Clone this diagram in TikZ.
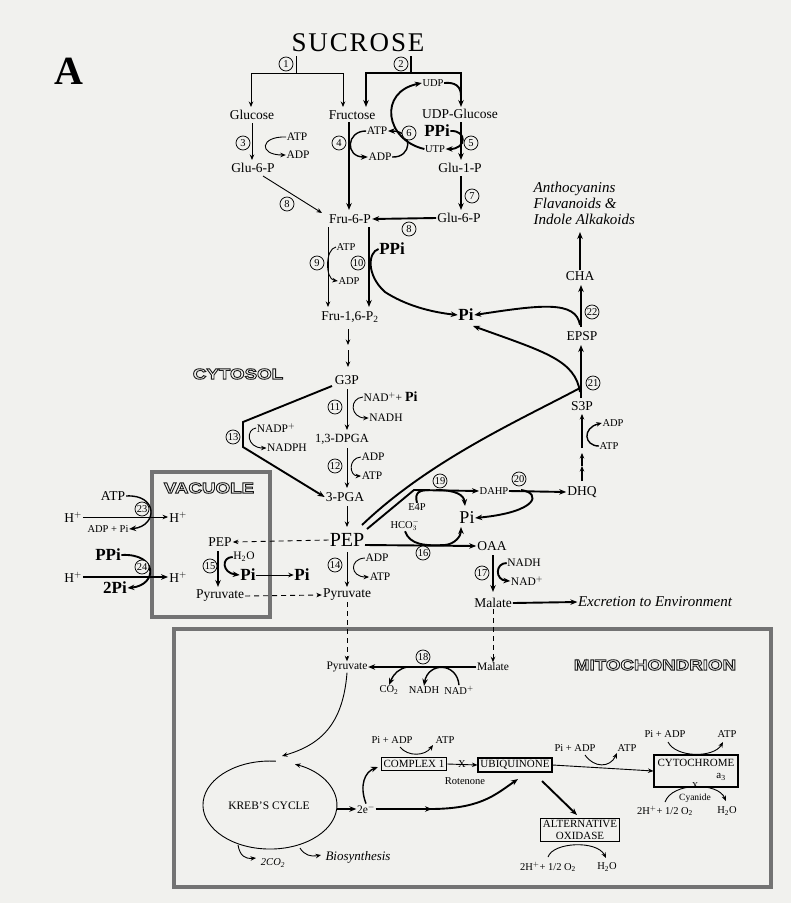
\documentclass[tikz,border=0pt]{standalone}
\usepackage{fontspec}
\setmainfont{Liberation Serif}
\newfontfamily\olfont[FakeStretch=1.25]{Liberation Sans Bold}
\usetikzlibrary{arrows.meta,calc}
\definecolor{paper}{RGB}{241,241,238}
\newcommand\olt[1]{\special{pdf:literal direct 1 Tr 0.9 w}#1\special{pdf:literal direct 0 Tr}}
\begin{document}
\begin{tikzpicture}[x=1pt,y=-1pt,
 lab/.style={font=\fontsize{13.5}{13.5}\selectfont,inner sep=1pt},
 sm/.style={font=\fontsize{11.5}{11.5}\selectfont,inner sep=0.5pt},
 tn/.style={font=\fontsize{10.5}{10.5}\selectfont,inner sep=0.5pt},
 bigb/.style={font=\fontsize{17}{17}\selectfont\bfseries,inner sep=0.5pt},
 cnum/.style={circle,draw,fill=paper,line width=0.75pt,inner sep=0pt,minimum size=14pt,font=\fontsize{10.5}{10.5}\selectfont},
 thn/.style={line width=0.9pt},
 thk/.style={line width=1.9pt},
 medl/.style={line width=1.4pt},
 ar/.style={-{Stealth[length=7pt,width=5.5pt]}},
 ars/.style={-{Stealth[length=5.5pt,width=4.5pt]}},
 arb/.style={{Stealth[length=7pt,width=5.5pt]}-{Stealth[length=7pt,width=5.5pt]}},
 arbs/.style={{Stealth[length=5.5pt,width=4.5pt]}-{Stealth[length=5.5pt,width=4.5pt]}},
 dsh/.style={dash pattern=on 5pt off 4pt},
 olbl/.style={font={\olfont\fontsize{15}{15}\selectfont},text=black!90,inner sep=0pt},
 mbox/.style={draw,line width=1.1pt,inner sep=2.5pt,font=\fontsize{11}{11.5}\selectfont},
 itl/.style={font=\fontsize{15}{16}\selectfont\itshape,inner sep=0.5pt},
 compart/.style={draw=black!55,line width=4.5pt},
]
\useasboundingbox (0,0) rectangle (791,903);
\fill[paper] (0,0) rectangle (791,903);

% compartments
\draw[compart] (152,472) rectangle (270,617);
\draw[compart] (174,629) rectangle (771,887);
\node[olbl] (cyt) at (238,374) {\olt{CYTOSOL}};
\node[olbl] (vac) at (209,488) {\olt{VACUOLE}};
\node[olbl] (mit) at (655,665) {\olt{MITOCHONDRION}};

% title
\node[font=\fontsize{40}{40}\selectfont\bfseries] (lA) at (69,71) {A};
\node[font=\fontsize{27}{27}\selectfont\addfontfeature{LetterSpace=7}] (suc) at (358,43) {SUCROSE};

% top sugars
\node[lab] (glc) at (252,115) {Glucose};
\node[lab] (fru) at (352,115) {Fructose};
\node[lab] (udpg) at (460,114) {UDP-Glucose};

% reaction 1
\draw[thn] (296,56) -- (296,73);
\draw[thn,arbs] (251,107) -- (251,73) -- (343,73) -- (343,107);
\node[cnum] (n1) at (286,64) {1};
% reaction 2
\draw[thk] (411,56) -- (411,73);
\draw[thk,arb] (366,107) -- (366,73) -- (461,73) -- (461,107);
\node[cnum] (n2) at (401,64) {2};
\node[tn] (udp) at (433,83) {UDP};
\draw[thk] (udp.east) .. controls (455,82) and (461,86) .. (461,96);

% reaction 6 / 4
\node[tn] (utp) at (435,149) {UTP};
\draw[thk,ar] (utp.west) .. controls (385,140) and (378,92) .. (udp.west);
\node[sm] (atp4) at (377,131) {ATP};
\node[sm] (adp4) at (380,157) {ADP};
\draw[medl,ar] (atp4.west) .. controls (346,131) and (345,157) .. (adp4.west);
\draw[medl,ar] (adp4.east) .. controls (412,158) and (414,131) .. (atp4.east);
\node[cnum] (n6) at (409,133) {6};
\draw[thk,ar] (349,122) -- (349,210);
\node[cnum] (n4) at (339,143) {4};

% reaction 5
\draw[thk,ar] (461,122) -- (461,160);
\node[bigb] (ppi5) at (437,131) {PPi};
\draw[thk,ar] (ppi5.east) .. controls (467,130) and (467,149) .. (utp.east);
\node[cnum] (n5) at (471,143) {5};
\node[lab] (glu1p) at (460,168) {Glu-1-P};
\node[lab] (glu6pr) at (459,218) {Glu-6-P};
\draw[thk,ar] (461,176) -- (461,210);
\node[cnum] (n7) at (472,196) {7};

% reaction 3
\node[lab] (glu6pl) at (253,168) {Glu-6-P};
\draw[thn,ars] (252,123) -- (252,160);
\node[cnum] (n3) at (243,143) {3};
\node[sm] (atp3) at (297,137) {ATP};
\node[sm] (adp3) at (298,155) {ADP};
\draw[thn,ars] (atp3.west) .. controls (260,136) and (258,155) .. (adp3.west);

% Fru-6-P
\node[lab] (fru6p) at (350,219) {Fru-6-P};
\draw[thn,ars] (263,176) -- (322,213);
\node[cnum] (n8a) at (287,204) {8};
\draw[thk,ar] (glu6pr.west) -- (fru6p.east);
\node[cnum] (n8b) at (409,229) {8};

% reactions 9, 10
\draw[thn,ars] (328,227) -- (328,307);
\node[cnum] (n9) at (317,263) {9};
\node[tn] (atp9) at (346,247) {ATP};
\node[tn] (adp9) at (349,281) {ADP};
\draw[thn,ars] (atp9.west) .. controls (325,249) and (325,279) .. (adp9.west);
\draw[thk,ar] (369,227) -- (369,307);
\node[cnum] (n10) at (358,263) {10};
\node[bigb] (ppi10) at (392,249) {PPi};
\node[bigb] (pitop) at (466,315) {Pi};
\draw[thk,ar] (ppi10.west) .. controls (368,252) and (366,275) .. (385,292) .. controls (405,305) and (430,312) .. (pitop.west);
\node[lab] (fru16) at (350,317) {Fru-1,6-P\textsubscript{2}};

\draw[thn,ars] (348,329) -- (348,345);
\draw[thn,ars] (348,350) -- (348,367);

% glycolysis
\node[lab] (g3p) at (347,380) {G3P};
\draw[thn,ars] (347,389) -- (347,430);
\node[cnum] (n11) at (335,407) {11};
\node[sm,anchor=west] (nad11) at (363,397) {NAD$^+$+ {\fontsize{14}{14}\selectfont\bfseries Pi}};
\node[sm] (nadh11) at (386,418) {NADH};
\draw[thn,ars] (nad11.west) .. controls (349,398) and (350,418) .. (nadh11.west);
\node[font=\fontsize{12.5}{12.5}\selectfont] (dpga) at (342,439) {1,3-DPGA};
\draw[thn,ars] (347,448) -- (347,488);
\node[cnum] (n12) at (335,466) {12};
\node[sm] (adp12) at (373,457) {ADP};
\node[sm] (atp12) at (372,476) {ATP};
\draw[thn,ars] (adp12.west) .. controls (348,458) and (349,476) .. (atp12.west);
\node[lab] (pga) at (345,497) {3-PGA};
\draw[thk,ar] (332,386) -- (243,422) -- (243,447) -- (pga.west);
\node[cnum] (n13) at (233,437) {13};
\node[sm] (nadp) at (276,428) {NADP$^+$};
\node[sm] (nadph) at (287,448) {NADPH};
\draw[thn,ars] (nadp.west) .. controls (246,429) and (246,448) .. (nadph.west);
\draw[thn,ars] (347,506) -- (347,527);
\node[font=\fontsize{20}{20}\selectfont,inner sep=1pt] (pep) at (347,540) {PEP};
\draw[thn,ars] (347,552) -- (347,587);
\node[cnum] (n14) at (335,565) {14};
\node[sm] (adp14) at (377,558) {ADP};
\node[sm] (atp14) at (380,577) {ATP};
\draw[thn,ars] (adp14.west) .. controls (349,559) and (350,577) .. (atp14.west);
\node[lab] (pyr) at (347,595) {Pyruvate};

% vacuole
\node[lab] (pepv) at (220,542) {PEP};
\draw[thn,ars,dsh] (pep.west) -- (pepv.east);
\node[cnum] (n15) at (210,566) {15};
\draw[thk,ar] (218,551) -- (218,587);
\node[sm] (h2o15) at (244,557) {H\textsubscript{2}O};
\node[bigb] (piv) at (248,575) {Pi};
\node[bigb] (pic) at (302,575) {Pi};
\draw[thk,ar] (h2o15.west) .. controls (221,557) and (222,573) .. (piv.west);
\draw[thn,ars] (piv.east) -- (pic.west);
\node[lab] (pyrv) at (220,596) {Pyruvate};
\draw[thn,ars,dsh] (pyrv.east) -- (pyr.west);

% reactions 23, 24
\node[lab] (h23l) at (73,517) {H$^+$};
\node[lab] (h23r) at (178,517) {H$^+$};
\draw[thn,ars] (h23l.east) -- (h23r.west);
\node[lab] (atp23) at (113,496) {ATP};
\node[tn] (adppi) at (108,529) {ADP + Pi};
\draw[medl,ar] (atp23.east) .. controls (158,494) and (158,526) .. (adppi.east);
\node[cnum] (n23) at (142,509) {23};
\node[bigb] (ppi24) at (108,555) {PPi};
\node[lab] (h24l) at (73,577) {H$^+$};
\node[lab] (h24r) at (178,577) {H$^+$};
\draw[thk,ar] (h24l.east) -- (h24r.west);
\node[bigb] (pi24) at (115,588) {2Pi};
\draw[thk,ar] (ppi24.east) .. controls (158,553) and (158,585) .. (pi24.east);
\node[cnum] (n24) at (142,567) {24};

% PEP carboxylase, shikimate
\node[lab] (oaa) at (492,546) {OAA};
\draw[thk,ar] (365,545) -- (oaa.west);
\node[cnum] (n16) at (423,553) {16};
\node[tn] (hco3) at (405,525) {HCO$_3^-$};
\node[font=\fontsize{18}{18}\selectfont,inner sep=0.5pt] (pim) at (467,518) {Pi};
\draw[thk,ar] (hco3.south) .. controls (410,545) and (425,546) .. (445,545) .. controls (455,544) and (461,536) .. (461,527);
\node[tn] (dahp) at (494,491) {DAHP};
\draw[thk,ar] (367,529) -- (414,490) -- (dahp.west);
\node[cnum] (n19) at (440,481) {19};
\node[tn] (e4p) at (417,507) {E4P};
\draw[thk] (e4p.north) .. controls (414,492) and (420,490) .. (430,490);
\draw[thk,ar] (436,490) .. controls (456,490) and (464,495) .. (465,506);
\node[lab] (dhq) at (582,492) {DHQ};
\draw[thk,ar] (dahp.east) -- (dhq.west);
\node[cnum] (n20) at (519,479) {20};
\draw[thk,ar] (521,490) .. controls (542,493) and (538,512) .. (pim.east);
\draw[thk] (362,525) .. controls (430,460) and (520,420) .. (580,388);

\node[lab] (s3p) at (582,406) {S3P};
\node[lab] (epsp) at (582,336) {EPSP};
\node[lab] (cha) at (580,276) {CHA};
\draw[medl,ars] (582,481) -- (582,466);
\draw[medl,ars] (582,466) -- (582,453);
\draw[medl,ars] (582,448) -- (582,414);
\node[tn] (atp21) at (609,446) {ATP};
\node[tn] (adp21) at (613,423) {ADP};
\draw[medl,ars] (atp21.west) .. controls (584,446) and (582,428) .. (adp21.west);
\draw[thk,ar] (581,398) -- (581,345);
\node[cnum] (n21) at (593,383) {21};
\draw[thk,ar] (580,392) .. controls (575,360) and (545,352) .. (473,326);
\draw[thk,ar] (581,327) -- (581,285);
\node[cnum] (n22) at (592,312) {22};
\draw[thk,ar] (580,325) .. controls (576,300) and (540,305) .. (pitop.east);
\draw[medl,ar] (cha.north) -- (580,232);
\node[itl,anchor=north west,align=left] (antho) at (533,181) {Anthocyanins\\Flavanoids \&\\Indole Alkakoids};

% malate
\node[lab] (mal) at (493,603) {Malate};
\draw[thk,ar] (493,555) -- (493,592);
\node[cnum] (n17) at (482,573) {17};
\node[sm] (nadh17) at (524,563) {NADH};
\node[sm] (nad17) at (527,581) {NAD$^+$};
\draw[thk,ar] (nadh17.west) .. controls (495,563) and (495,580) .. (nad17.west);
\node[itl] (excr) at (655,602) {Excretion to Environment};
\draw[thk,ar] (mal.east) -- (excr.west);

% mitochondrion
\node[sm] (pyrm) at (347,667) {Pyruvate};
\node[sm] (malm) at (493,667) {Malate};
\draw[thn,ars,dsh] (pyr.south) -- (pyrm.north);
\draw[thn,ars,dsh] (mal.south) -- (malm.north);
\draw[thk,ar] (malm.west) -- (pyrm.east);
\node[cnum] (n18) at (423,657) {18};
\node[tn] (co2) at (389,690) {CO\textsubscript{2}};
\node[tn] (nadh18) at (424,690) {NADH};
\node[tn] (nad18) at (459,690) {NAD$^+$};
\draw[medl,ar] (407,667) .. controls (399,669) and (394,673) .. (co2.north);
\draw[medl,ar] (nad18.north) .. controls (457,662) and (428,662) .. (nadh18.north);

\draw[thn,ars] (pyrm.south) .. controls (343,725) and (320,745) .. (282,756);
\draw[thn,ars] (275.8,761.2) arc[start angle=85,end angle=428,x radius=67pt,y radius=44pt];
\node[sm] (kreb) at (269,806) {KREB'S CYCLE};
\node[sm] (e2) at (366,809) {2e$^-$};
\draw[medl,ar] (337,809) -- (e2.west);
\draw[medl,ar] (e2.north) .. controls (359,785) and (365,772) .. (378,767);
\node[mbox] (cx1) at (414,764) {COMPLEX 1};
\node[tn] (piadp1) at (392,740) {Pi + ADP};
\node[tn] (atpc1) at (445,740) {ATP};
\draw[thn,ars] (400,747) .. controls (408,757) and (425,756) .. (433,745);
\node[mbox] (ubq) at (515,765) {UBIQUINONE};
\draw[thn,ars] (cx1.east) -- (ubq.west);
\node[tn] (xr) at (462,764) {X};
\node[tn] (roten) at (465,781) {Rotenone};
\draw[thk,ar] (e2.east) -- (432,809);
\draw[thk,ar] (430,809) .. controls (480,809) and (495,795) .. (518,779);
\node[mbox,minimum width=84pt,minimum height=32pt] (cytc) at (696,771) {};
\node[font=\fontsize{11}{11}\selectfont,inner sep=0.5pt] (cytt) at (696,763) {CYTOCHROME};
\node[font=\fontsize{11}{11}\selectfont,inner sep=0.5pt] (a3) at (721,777) {a\textsubscript{3}};
\draw[thn,ars] (ubq.east) -- (cytc.west);
\node[tn] (piadp2) at (575,748) {Pi + ADP};
\node[tn] (atp2) at (627,748) {ATP};
\draw[thn,ars] (585,755) .. controls (594,768) and (610,768) .. (617,753);
\node[tn] (piadp3) at (665,734) {Pi + ADP};
\node[tn] (atp3c) at (727,734) {ATP};
\draw[thn,ars] (668,742) .. controls (676,758) and (714,758) .. (723,742);
\node[tn] (o2c) at (665,811) {2H$^+$+ 1/2 O\textsubscript{2}};
\node[tn] (h2oc) at (727,811) {H\textsubscript{2}O};
\draw[thn,ars] (665,802) .. controls (672,782) and (718,782) .. (726,801);
\node[font=\fontsize{9}{9}\selectfont,inner sep=0pt] (xc) at (695,786) {X};
\node[font=\fontsize{9.5}{9.5}\selectfont,inner sep=0pt] (cyan) at (695,798) {Cyanide};
\node[mbox,align=center] (aox) at (580,830) {ALTERNATIVE\\OXIDASE};
\draw[thk,ar] (542,781) -- (577,815);
\node[tn] (o2a) at (548,867) {2H$^+$+ 1/2 O\textsubscript{2}};
\node[tn] (h2oa) at (607,867) {H\textsubscript{2}O};
\draw[thn,ars] (548,857) .. controls (553,842) and (597,840) .. (606,858);
\draw[thn,ars] (238,845) .. controls (240,856) and (245,859) .. (256,858);
\node[font=\fontsize{10.5}{10.5}\selectfont\itshape,inner sep=0.5pt] (co2k) at (273,863) {2CO\textsubscript{2}};
\draw[thn,ars] (300,848) .. controls (304,855) and (311,857) .. (321,855);
\node[font=\fontsize{13}{13}\selectfont\itshape,inner sep=0.5pt] (bios) at (358,857) {Biosynthesis};
\end{tikzpicture}
\end{document}
